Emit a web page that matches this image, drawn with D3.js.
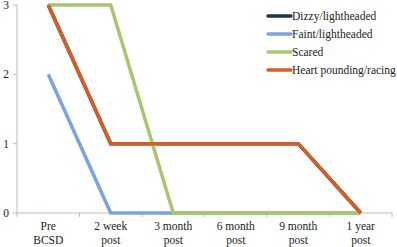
<!DOCTYPE html>
<html>
<head>
<meta charset="utf-8">
<script src="https://cdn.jsdelivr.net/npm/d3@7"></script>
<style>
  body { margin: 0; background: #fff; }
  text { font-family: "Liberation Serif", serif; fill: #222; }
</style>
</head>
<body>
<svg id="chart" width="397" height="247"></svg>
<script>
const categories = ["Pre|BCSD", "2 week|post", "3 month|post", "6 month|post", "9 month|post", "1 year|post"];
const seriesNames = ["Dizzy/lightheaded", "Faint/lightheaded", "Scared", "Heart pounding/racing"];
const dizzy = [3, 1, 1, 1, 1, 0];
const faint = [2, 0, 0, 0, 0, 0];
const scared = [3, 3, 0, 0, 0, 0];
const heart = [3, 1, 1, 1, 1, 0];
const yTicks = [0, 1, 2, 3];
const colors = ["#1f3552", "#7aa3e0", "#a9c66a", "#d35f24"];

const series = [dizzy, faint, scared, heart].map((v, i) => ({ name: seriesNames[i], values: v, color: colors[i] }));

const svg = d3.select("#chart");
const mLeft = 17, mRight = 392, mTop = 5, mBottom = 213;

const x = d3.scaleBand().domain(categories).range([mLeft, mRight]);
const y = d3.scaleLinear().domain([0, 3]).range([mBottom, mTop]);

// y axis
svg.append("line").attr("x1", mLeft).attr("x2", mLeft).attr("y1", mTop).attr("y2", mBottom)
    .attr("stroke", "#bbb");
svg.selectAll(".ytick").data(yTicks).enter().append("line")
    .attr("x1", mLeft - 4).attr("x2", mLeft).attr("y1", d => y(d)).attr("y2", d => y(d))
    .attr("stroke", "#bbb");
svg.selectAll(".ylabel").data(yTicks).enter().append("text")
    .attr("x", 9).attr("y", d => y(d) + 4)
    .attr("text-anchor", "end").attr("font-size", 11.5)
    .text(d => d);

// x axis
svg.append("line").attr("x1", mLeft).attr("x2", mRight).attr("y1", mBottom).attr("y2", mBottom)
    .attr("stroke", "#bbb");
svg.selectAll(".xtick").data(categories.concat(["end"])).enter().append("line")
    .attr("x1", (d, i) => mLeft + i * x.bandwidth()).attr("x2", (d, i) => mLeft + i * x.bandwidth())
    .attr("y1", mBottom).attr("y2", mBottom + 4)
    .attr("stroke", "#bbb");
const xl = svg.selectAll(".xlabel").data(categories).enter().append("text")
    .attr("text-anchor", "middle").attr("font-size", 11.5);
xl.append("tspan").attr("x", d => x(d) + x.bandwidth() / 2).attr("y", 230).text(d => d.split("|")[0]);
xl.append("tspan").attr("x", d => x(d) + x.bandwidth() / 2).attr("y", 244).text(d => d.split("|")[1]);

// lines
const line = d3.line()
    .x((d, i) => x(categories[i]) + x.bandwidth() / 2)
    .y(d => y(d));

svg.selectAll(".series").data(series).enter().append("path")
    .attr("d", d => line(d.values))
    .attr("fill", "none")
    .attr("stroke", d => d.color)
    .attr("stroke-width", 3.5)
    .attr("stroke-linejoin", "miter");

// legend
const lg = svg.selectAll(".legend").data(series).enter().append("g")
    .attr("transform", (d, i) => `translate(268, ${16 + i * 18})`);
lg.append("line").attr("x1", 0).attr("x2", 23).attr("y1", 0).attr("y2", 0)
    .attr("stroke", d => d.color).attr("stroke-width", 3.5).attr("stroke-linecap", "round");
lg.append("text").attr("x", 24).attr("y", 4).attr("font-size", 11.5).text(d => d.name);
</script>
</body>
</html>
